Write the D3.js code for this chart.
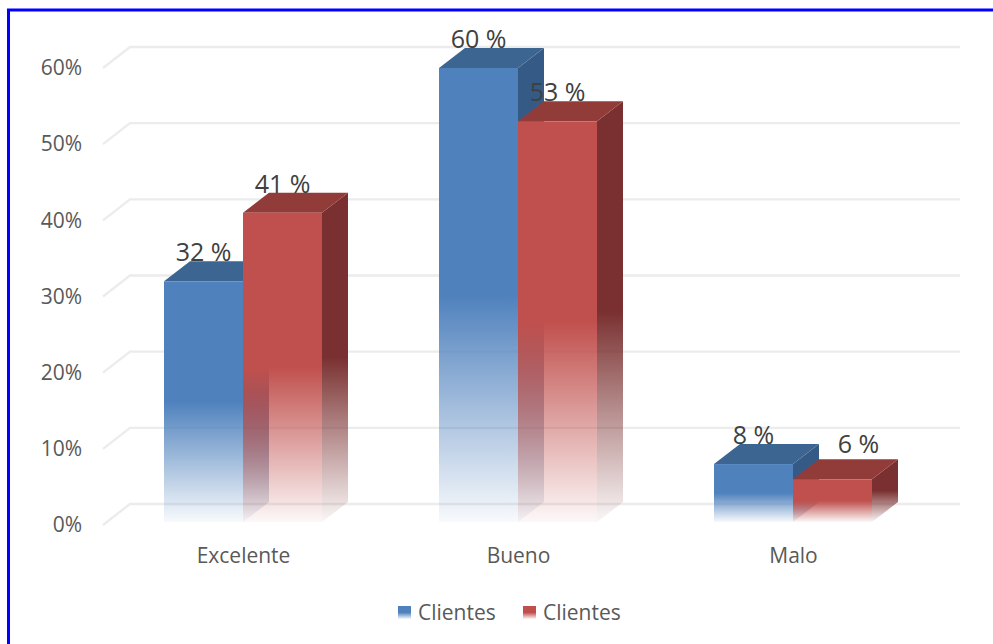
<!DOCTYPE html>
<html>
<head>
<meta charset="utf-8">
<script src="https://cdn.jsdelivr.net/npm/d3@7"></script>
<style>
  html, body { margin: 0; padding: 0; background: #fff; }
  svg { display: block; }
  text { font-family: "Open Sans", "DejaVu Sans", sans-serif; }
</style>
</head>
<body>
<svg id="chart" width="993" height="644"></svg>
<script>
// Survey results: share of customers per rating
const categories = ["Excelente", "Bueno", "Malo"];
const seriesNames = ["Clientes", "Clientes"];
const seriesA = [0.32, 0.60, 0.08];
const seriesB = [0.41, 0.53, 0.06];
const valueLabels = [["32 %", "60 %", "8 %"], ["41 %", "53 %", "6 %"]];
const tickValues = [0, 0.1, 0.2, 0.3, 0.4, 0.5, 0.6];

const palette = [
  { front: "#4F81BD", top: "#3D6592", side: "#365A86" },
  { front: "#C0504D", top: "#923C3A", side: "#7A3030" }
];

const svg = d3.select("#chart");
const W = 993, H = 644;

// 3D depth offsets (wall and bars)
const wallDx = 27, wallDy = -21;
const barDx = 26, barDy = -20;

const y = d3.scaleLinear().domain([0, 0.6]).range([525, 68]);
const x = d3.scalePoint().domain(categories).range([105.5, 930.5]).padding(0.5);
const xs = d3.scaleBand().domain([0, 1]).range([-79, 79]);

// gradients: solid upper half, fading toward the base
const defs = svg.append("defs");
palette.forEach((p, i) => {
  ["front", "side"].forEach(face => {
    const g = defs.append("linearGradient")
      .attr("id", `g${i}${face}`)
      .attr("x1", 0).attr("y1", 0).attr("x2", 0).attr("y2", 1);
    g.append("stop").attr("offset", 0).attr("stop-color", p[face]).attr("stop-opacity", 1);
    g.append("stop").attr("offset", 0.5).attr("stop-color", p[face]).attr("stop-opacity", 1);
    g.append("stop").attr("offset", 1).attr("stop-color", p[face]).attr("stop-opacity", 0.04);
  });
});

// back-wall gridlines with the short side-wall diagonal
const wallLeft = 103, wallRight = 960;
const grid = svg.append("g");
tickValues.forEach(t => {
  const yf = y(t);
  grid.append("path")
    .attr("d", `M${wallLeft},${yf} L${wallLeft + wallDx},${yf + wallDy} L${wallRight},${yf + wallDy}`)
    .attr("fill", "none")
    .attr("stroke", "#ececec")
    .attr("stroke-width", 2.4);
});

// value axis labels
const yAxis = d3.axisLeft(y).tickValues(tickValues).tickFormat(d3.format(".0%")).tickSize(0).tickPadding(6);
const gy = svg.append("g").attr("transform", "translate(88,0)").call(yAxis);
gy.select(".domain").remove();
gy.selectAll("text").attr("font-size", 21).attr("fill", "#595959")
  .attr("font-family", "'Open Sans', sans-serif");

// category axis labels
const xAxis = d3.axisBottom(x).tickSize(0).tickPadding(0);
const gx = svg.append("g").attr("transform", "translate(0,548)").call(xAxis);
gx.select(".domain").remove();
gx.selectAll("text").attr("font-size", 21).attr("fill", "#595959")
  .attr("font-family", "'Open Sans', sans-serif");

// bars
const seriesData = [seriesA, seriesB];
const bars = svg.append("g");
seriesData.forEach((vals, si) => {
  const p = palette[si];
  const g = bars.append("g");
  vals.forEach((v, ci) => {
    const x0 = x(categories[ci]) + xs(si);
    const x1 = x0 + xs.bandwidth();
    const yt = y(v), yb = y(0) - 3;
    // right side face
    g.append("path")
      .attr("d", `M${x1},${yt} L${x1 + barDx},${yt + barDy} L${x1 + barDx},${yb + barDy} L${x1},${yb} Z`)
      .attr("fill", `url(#g${si}side)`);
    // top face
    g.append("path")
      .attr("d", `M${x0},${yt} L${x0 + barDx},${yt + barDy} L${x1 + barDx},${yt + barDy} L${x1},${yt} Z`)
      .attr("fill", p.top);
    // front face
    g.append("rect")
      .attr("x", x0).attr("y", yt)
      .attr("width", x1 - x0).attr("height", yb - yt)
      .attr("fill", `url(#g${si}front)`);
  });
});

// value labels; a label that would collide with its neighbour moves to the back-right
categories.forEach((c, ci) => {
  const pos = seriesData.map((vals, si) => ({
    x: x(c) + xs(si) + xs.bandwidth() / 2,
    y: y(vals[ci]) - 20
  }));
  if (Math.abs(pos[1].y - pos[0].y) < 24) {
    pos[1].x += barDx;
    pos[1].y -= 6;
  }
  pos.forEach((p, si) => {
    svg.append("text")
      .attr("x", p.x)
      .attr("y", p.y)
      .attr("text-anchor", "middle")
      .attr("font-size", 25)
      .attr("fill", "#404040")
      .text(valueLabels[si][ci]);
  });
});

// legend
const legend = svg.append("g").attr("transform", "translate(398,606)");
const legendX = [0, 125];
seriesNames.forEach((name, i) => {
  const lg = legend.append("g").attr("transform", `translate(${legendX[i]},0)`);
  lg.append("rect").attr("width", 13).attr("height", 13).attr("fill", `url(#g${i}front)`);
  lg.append("text").attr("x", 20).attr("y", 6.5).attr("dy", "0.35em")
    .attr("font-size", 21).attr("fill", "#595959").text(name);
});

// frame (left and top edges)
svg.append("path")
  .attr("d", `M8.5,${H} L8.5,10 L${W},10`)
  .attr("fill", "none")
  .attr("stroke", "#0000ff")
  .attr("stroke-width", 3);
</script>
</body>
</html>
